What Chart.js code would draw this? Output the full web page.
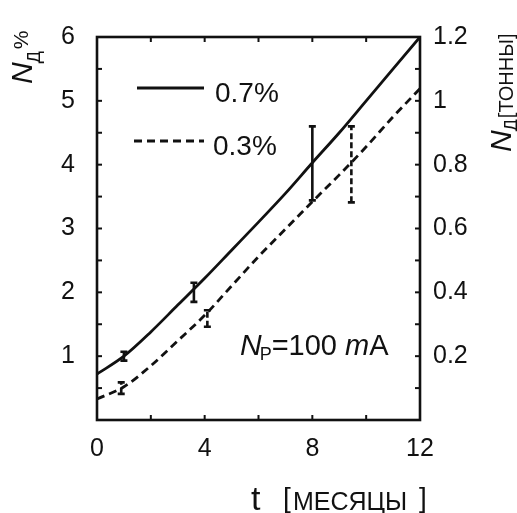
<!DOCTYPE html>
<html><head><meta charset="utf-8">
<script src="https://cdn.jsdelivr.net/npm/chart.js@4/dist/chart.umd.min.js"></script>
<style>html,body{margin:0;padding:0;background:#fff;}canvas{display:block;}</style>
</head><body>
<canvas id="c" width="517" height="513"></canvas>
<script>
// ---- data ----
const months = [0,1,2,3,4,5,6,7,8,9,10,11,12];
const solid07 = [0.72,1.0,1.38,1.8,2.22,2.66,3.1,3.55,4.03,4.5,5.0,5.5,6.0];
const dashed03 = [0.33,0.52,0.85,1.24,1.64,2.1,2.56,2.99,3.42,3.84,4.28,4.75,5.19];
const seriesLabels = ['0.7%','0.3%'];
const err07T = [1.0,3.6,8.0];
const err07Lo = [0.93,1.85,3.44];
const err07Hi = [1.07,2.15,4.6];
const err03T = [0.9,4.1,9.45];
const err03Lo = [0.41,1.46,3.41];
const err03Hi = [0.59,1.72,4.6];
const xTickLabels = [0,4,8,12];
const yTickLabels = [1,2,3,4,5,6];
const y2TickLabels = [0.2,0.4,0.6,0.8,1,1.2];
const annotationText = ['N','P','=100 ','m','A'];

const INK = '#111';
const FONT = '"Liberation Sans", Arial, sans-serif';

function has(arr, v){ return arr.find(a => Math.abs(a - v) < 1e-6); }

const inwardTicks = {
  id:'inwardTicks',
  afterDatasetsDraw(chart){
    const ctx = chart.ctx, a = chart.chartArea;
    ctx.save();
    ctx.strokeStyle = INK; ctx.lineWidth = 2;
    const L = 5;
    chart.scales.x.ticks.forEach(t => {
      const px = chart.scales.x.getPixelForValue(t.value);
      ctx.beginPath(); ctx.moveTo(px, a.bottom); ctx.lineTo(px, a.bottom - L);
      ctx.moveTo(px, a.top); ctx.lineTo(px, a.top + L); ctx.stroke();
    });
    chart.scales.y.ticks.forEach(t => {
      const py = chart.scales.y.getPixelForValue(t.value);
      ctx.beginPath(); ctx.moveTo(a.left, py); ctx.lineTo(a.left + L, py); ctx.stroke();
    });
    chart.scales.y2.ticks.forEach(t => {
      const py = chart.scales.y2.getPixelForValue(t.value);
      ctx.beginPath(); ctx.moveTo(a.right, py); ctx.lineTo(a.right - L, py); ctx.stroke();
    });
    ctx.lineWidth = 2.6;
    ctx.strokeRect(a.left, a.top, a.right - a.left, a.bottom - a.top);
    ctx.restore();
  }
};

const errorBars = {
  id:'errorBars',
  afterDatasetsDraw(chart){
    const ctx = chart.ctx, xs = chart.scales.x, ys = chart.scales.y;
    const sets = [[err07T,err07Lo,err07Hi,[]],[err03T,err03Lo,err03Hi,[6,3]]];
    ctx.save(); ctx.strokeStyle = INK; ctx.lineWidth = 2.6;
    sets.forEach(([T,Lo,Hi,dash]) => {
      T.forEach((t,i) => {
        const px = xs.getPixelForValue(t), p1 = ys.getPixelForValue(Lo[i]), p2 = ys.getPixelForValue(Hi[i]);
        ctx.setLineDash(dash);
        ctx.beginPath(); ctx.moveTo(px,p1); ctx.lineTo(px,p2); ctx.stroke();
        ctx.setLineDash([]);
        ctx.beginPath(); ctx.moveTo(px-3.5,p1); ctx.lineTo(px+3.5,p1); ctx.moveTo(px-3.5,p2); ctx.lineTo(px+3.5,p2); ctx.stroke();
      });
    });
    ctx.restore();
  }
};

function rich(ctx, parts, x, y){
  let cx = x;
  parts.forEach(p => {
    ctx.font = p.font;
    ctx.fillText(p.text, cx, y + (p.dy||0));
    cx += ctx.measureText(p.text).width + (p.gap||0);
  });
}

const texts = {
  id:'texts',
  afterDraw(chart){
    const ctx = chart.ctx;
    ctx.save();
    ctx.fillStyle = INK; ctx.textBaseline = 'alphabetic'; ctx.textAlign = 'left';
    // legend
    chart.data.datasets.forEach((ds,i) => {
      const ly = [88,141][i], x0 = [137,134][i];
      ctx.strokeStyle = ds.borderColor; ctx.lineWidth = ds.borderWidth;
      ctx.setLineDash(ds.borderDash || []);
      ctx.beginPath(); ctx.moveTo(x0, ly); ctx.lineTo(204, ly); ctx.stroke();
      ctx.setLineDash([]);
      ctx.font = '28px ' + FONT;
      ctx.fillText(ds.label, [215,213][i], ly + 14);
    });
    // annotation
    rich(ctx, [
      {text:annotationText[0], font:'italic 30px '+FONT, gap:-2},
      {text:annotationText[1], font:'18px '+FONT, dy:5, gap:0},
      {text:annotationText[2], font:'29px '+FONT, gap:0},
      {text:annotationText[3], font:'italic 29px '+FONT, gap:0},
      {text:annotationText[4], font:'29px '+FONT}
    ], 240, 355);
    // x title
    ctx.font = '34px ' + FONT; ctx.fillText('t', 251, 510);
    ctx.font = '28px ' + FONT; ctx.fillText('[', 283, 507);
    ctx.font = '25px ' + FONT; ctx.fillText('МЕСЯЦЫ', 293, 510);
    ctx.font = '28px ' + FONT; ctx.fillText(']', 419, 507);
    // left y title
    ctx.save(); ctx.translate(32, 84); ctx.rotate(-Math.PI/2);
    rich(ctx, [
      {text:'N', font:'italic 30px '+FONT, gap:-1},
      {text:'Д', font:'18px '+FONT, dy:8, gap:2},
      {text:'%', font:'21px '+FONT, dy:-4}
    ], 0, 0);
    ctx.restore();
    // right y title
    ctx.save(); ctx.translate(511, 152); ctx.rotate(-Math.PI/2);
    rich(ctx, [
      {text:'N', font:'italic 30px '+FONT, gap:-1},
      {text:'Д', font:'18px '+FONT, dy:6, gap:1},
      {text:'[ТОННЫ]', font:'20px '+FONT, dy:2}
    ], 0, 0);
    ctx.restore();
    ctx.restore();
  }
};

const tickFont = {family: FONT, size: 25};

new Chart(document.getElementById('c'), {
  type:'line',
  data:{
    datasets:[
      {label:seriesLabels[0], data:months.map((t,i)=>({x:t,y:solid07[i]})), borderColor:INK, borderWidth:2.8,
       pointRadius:0, cubicInterpolationMode:'monotone', fill:false, yAxisID:'y'},
      {label:seriesLabels[1], data:months.map((t,i)=>({x:t,y:dashed03[i]})), borderColor:INK, borderWidth:2.8,
       borderDash:[8,5], pointRadius:0, cubicInterpolationMode:'monotone', fill:false, yAxisID:'y'}
    ]
  },
  options:{
    responsive:false, animation:false, devicePixelRatio:1,
    layout:{padding:{top:21,left:0,right:0,bottom:0}},
    plugins:{legend:{display:false}, tooltip:{enabled:false}},
    scales:{
      x:{type:'linear', min:0, max:12, afterFit(s){s.height=93;},
         ticks:{stepSize:2, font:tickFont, color:INK, padding:14, maxRotation:0, autoSkip:false,
                callback:v => has(xTickLabels, v) !== undefined ? String(v) : ''},
         grid:{display:false, drawTicks:false}, border:{display:false}},
      y:{type:'linear', position:'left', min:0, max:6, afterFit(s){s.width=97;},
         ticks:{stepSize:0.5, font:tickFont, color:INK, padding:22, autoSkip:false,
                callback:v => has(yTickLabels, v) !== undefined ? String(v) : ''},
         grid:{display:false, drawTicks:false}, border:{display:false}},
      y2:{type:'linear', position:'right', min:0, max:1.2, afterFit(s){s.width=97;},
         ticks:{stepSize:0.1, font:tickFont, color:INK, padding:13, autoSkip:false,
                callback:v => { const m = has(y2TickLabels, v); return m !== undefined ? String(m) : ''; }},
         grid:{display:false, drawTicks:false}, border:{display:false}}
    }
  },
  plugins:[inwardTicks, errorBars, texts]
});
</script>
</body></html>
